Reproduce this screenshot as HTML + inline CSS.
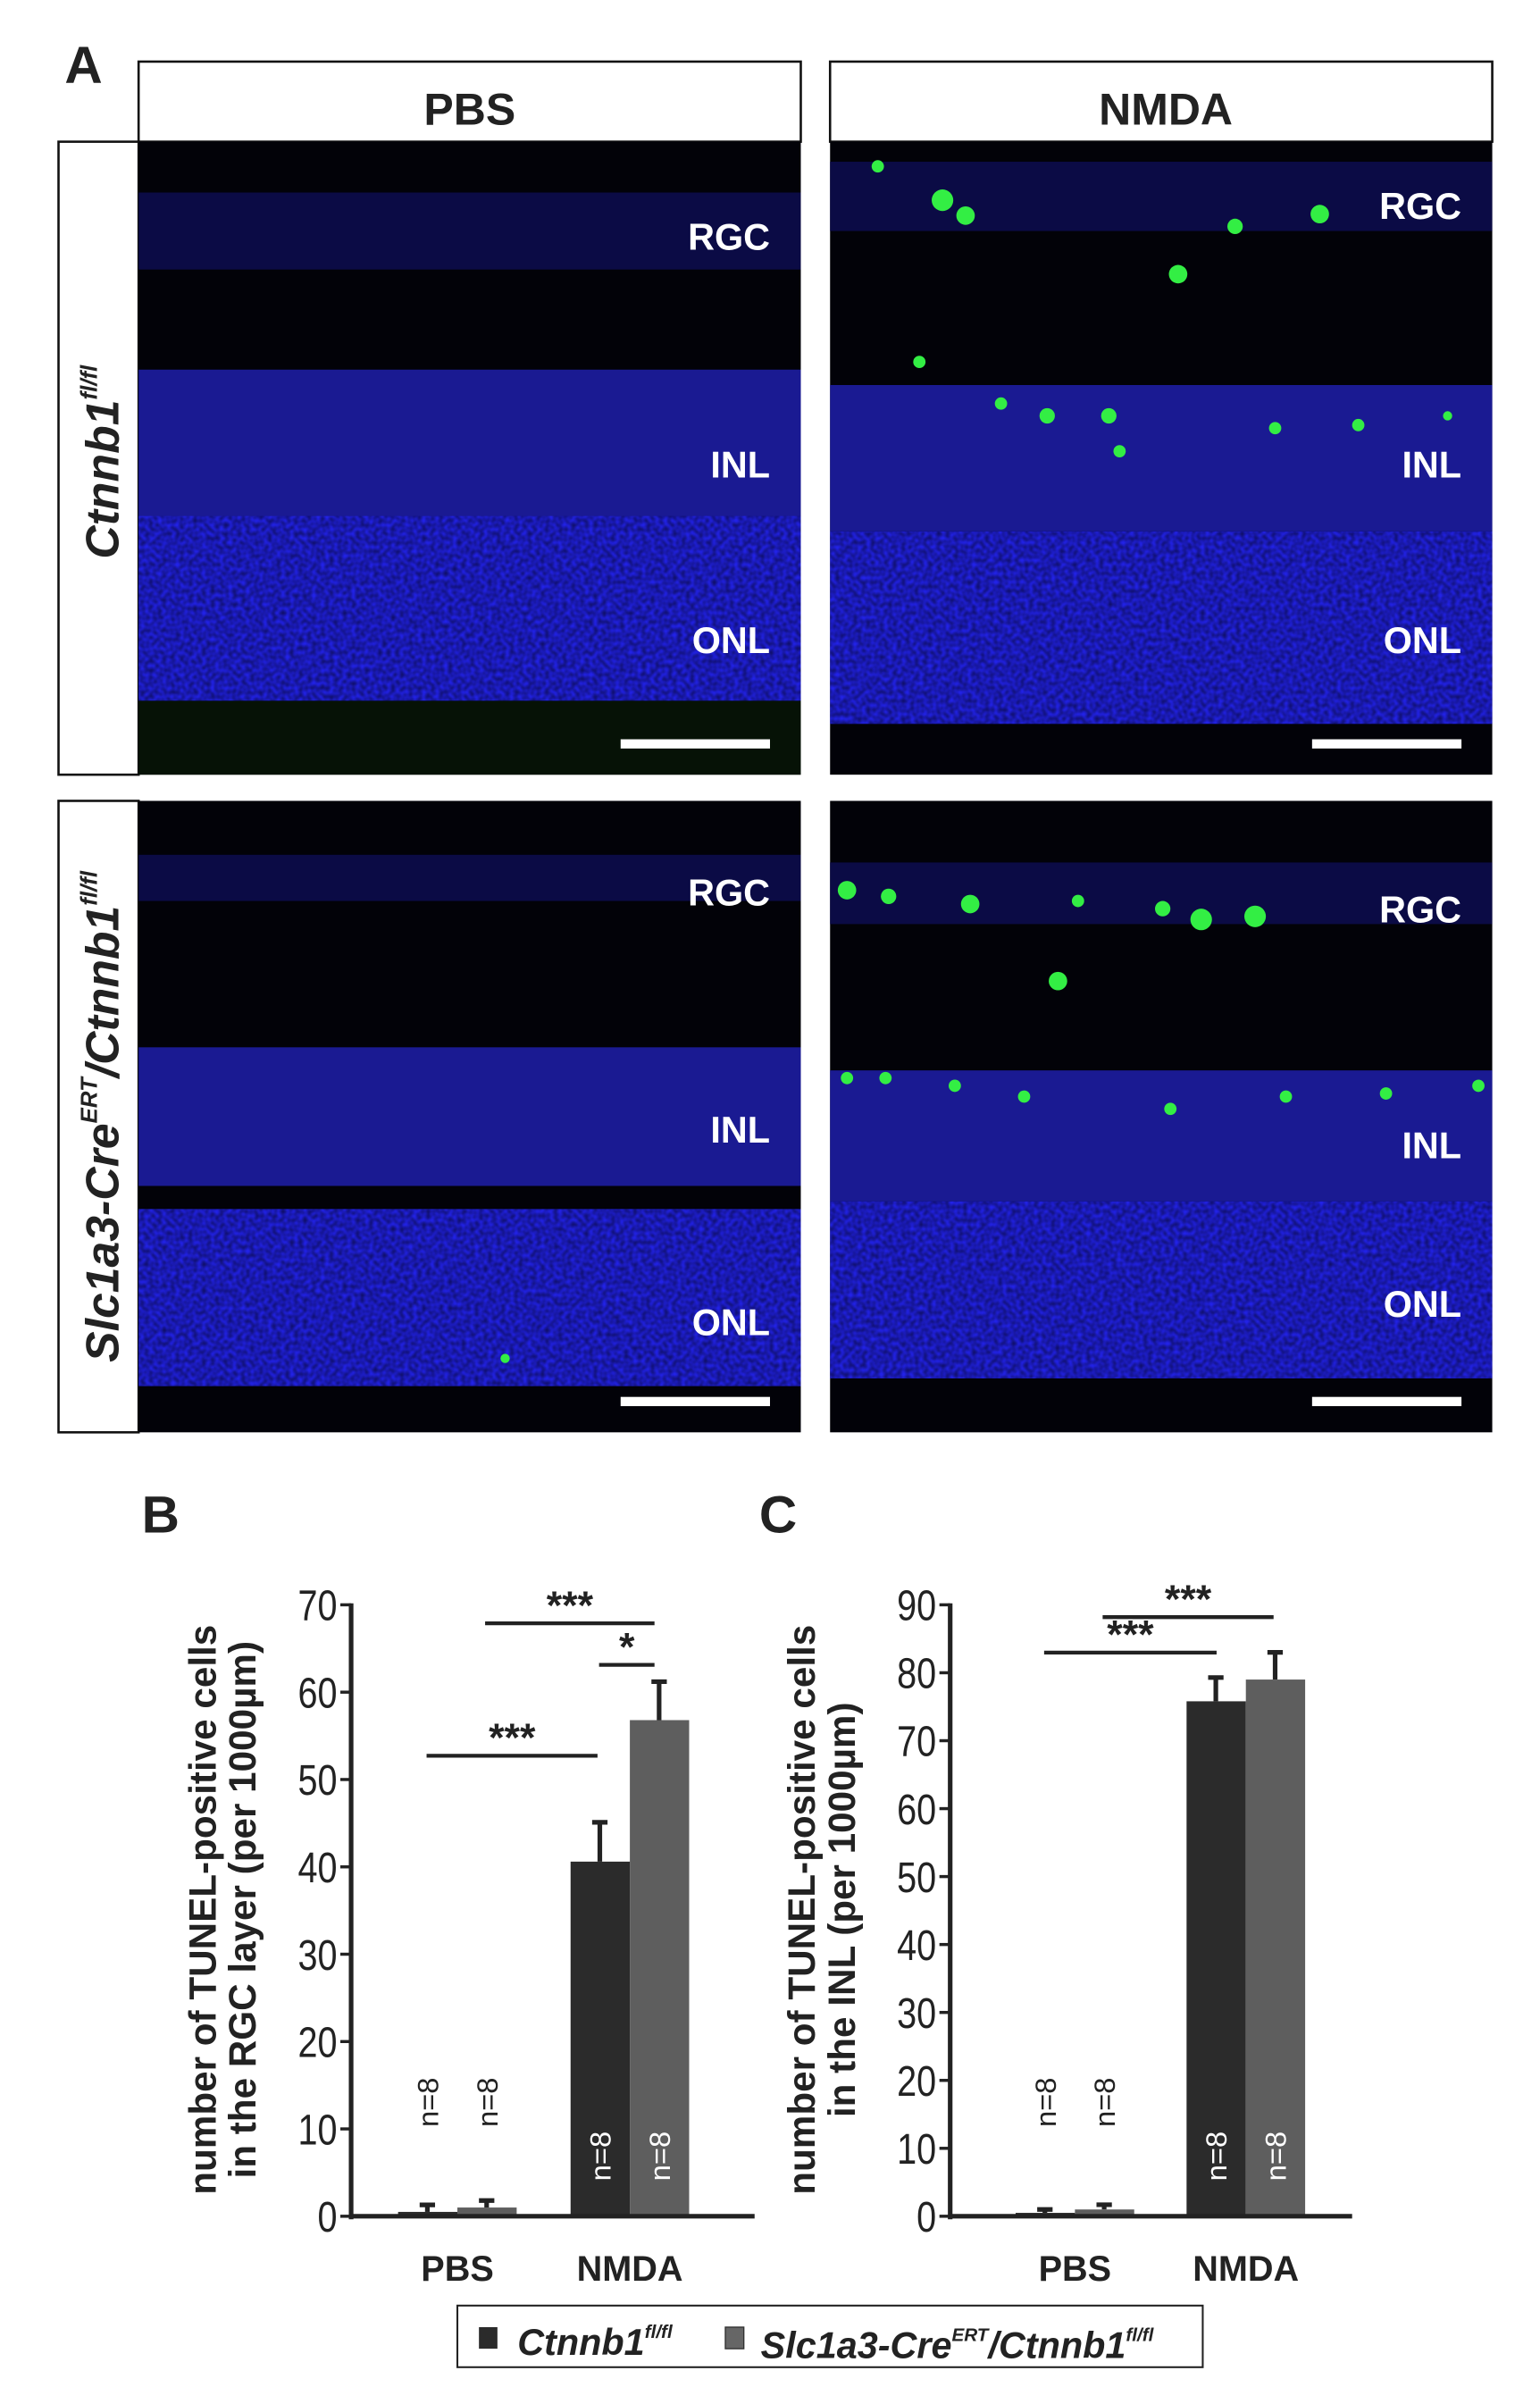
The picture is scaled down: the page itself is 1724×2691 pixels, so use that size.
<!DOCTYPE html>
<html><head><meta charset="utf-8"><style>
html,body{margin:0;padding:0;background:#fff}
svg{display:block}
text{font-family:"Liberation Sans",sans-serif}
</style></head><body>
<svg id="fig" width="1724" height="2691" viewBox="0 0 1000 1560.9" xmlns="http://www.w3.org/2000/svg">
<defs>
<filter id="tex" x="0" y="0" width="1" height="1"><feTurbulence type="fractalNoise" baseFrequency="0.35" numOctaves="1" seed="3"/><feColorMatrix values="0 0 0 0 0  0 0 0 0 0  0 0 0 0 0  0 0 0 -1.4 1.1"/><feComposite in2="SourceGraphic" operator="in"/></filter>
</defs>
<text x="42" y="54" font-size="34" font-weight="bold" fill="#222">A</text>
<g><rect x="90" y="40" width="430" height="52" fill="#fff" stroke="#111" stroke-width="1.5"/><text x="305" y="81" font-size="29" font-weight="bold" text-anchor="middle" fill="#222">PBS</text></g>
<g><rect x="539" y="40" width="430" height="52" fill="#fff" stroke="#111" stroke-width="1.5"/><text x="757" y="81" font-size="29" font-weight="bold" text-anchor="middle" fill="#222">NMDA</text></g>
<g><rect x="38" y="92" width="52" height="411" fill="#fff" stroke="#111" stroke-width="1.5"/><text transform="translate(77,300) rotate(-90)" font-size="30" font-weight="bold" font-style="italic" text-anchor="middle" fill="#222">Ctnnb1<tspan font-size="15" dy="-14">fl/fl</tspan></text></g>
<g><rect x="38" y="520" width="52" height="410" fill="#fff" stroke="#111" stroke-width="1.5"/><text transform="translate(77,725) rotate(-90)" font-size="30" font-weight="bold" font-style="italic" text-anchor="middle" fill="#222">Slc1a3-Cre<tspan font-size="15" dy="-14">ERT</tspan><tspan dy="14">/Ctnnb1</tspan><tspan font-size="15" dy="-14">fl/fl</tspan></text></g>
<g id="micro"></g>
<g id="chartB"></g>
<g id="chartC"></g>
<g>
<rect x="297" y="1497" width="484" height="40" fill="#fff" stroke="#222" stroke-width="1.2"/>
<rect x="311" y="1511" width="12" height="14" fill="#2b2b2b"/>
<text x="336" y="1529" font-size="24" font-weight="bold" font-style="italic" fill="#222">Ctnnb1<tspan font-size="12" dy="-11">fl/fl</tspan></text>
<rect x="471" y="1511" width="12" height="14" fill="#666" stroke="#333" stroke-width="0.8"/>
<text x="494" y="1531" font-size="24" font-weight="bold" font-style="italic" fill="#222">Slc1a3-Cre<tspan font-size="12" dy="-11">ERT</tspan><tspan dy="11">/Ctnnb1</tspan><tspan font-size="12" dy="-11">fl/fl</tspan></text>
</g>
</svg>
<script>
const NS='http://www.w3.org/2000/svg';
function mk(tag,attrs,parent){const e=document.createElementNS(NS,tag);for(const k in attrs)e.setAttribute(k,attrs[k]);parent.appendChild(e);return e;}

// ---- micrographs ----
const micro=document.getElementById('micro');
const panels=[
 {x:90,y:92,h:411,rgc:[125,175],inl:[240,335],onl:[335,455],lab:[153,301,415],dots:[],bar:483},
 {x:539,y:92,h:411,rgc:[105,150],inl:[250,345],onl:[345,470],lab:[133,301,415],dots:[[612,130,7],[627,140,6],[802,147,5],[857,139,6],[765,178,6],[597,235,4],[570,108,4],[680,270,5],[720,270,5],[727,293,4],[882,276,4],[940,270,3],[828,278,4],[650,262,4]],bar:483},
 {x:90,y:520,h:410,rgc:[555,585],inl:[680,770],onl:[785,900],lab:[579,733,858],dots:[[328,882,3]],bar:910},
 {x:539,y:520,h:410,rgc:[560,600],inl:[695,780],onl:[780,895],lab:[590,743,846],dots:[[550,578,6],[577,582,5],[630,587,6],[687,637,6],[780,597,7],[815,595,7],[755,590,5],[575,700,4],[620,705,4],[665,712,4],[760,720,4],[835,712,4],[900,710,4],[960,705,4],[700,585,4],[550,700,4]],bar:910}
];
panels.forEach((p,i)=>{
 const g=mk('g',{},micro);
 
 
 mk('rect',{x:p.x,y:p.y,width:430,height:p.h,fill:'#020208'},g);
 mk('rect',{x:p.x,y:p.rgc[0],width:430,height:p.rgc[1]-p.rgc[0],fill:'#0b0b45'},g);
 mk('rect',{x:p.x,y:p.inl[0],width:430,height:p.inl[1]-p.inl[0],fill:'#1a1a92'},g);
 mk('rect',{x:p.x,y:p.onl[0],width:430,height:p.onl[1]-p.onl[0],fill:'#2222e6'},g);
 mk('rect',{x:p.x,y:p.onl[0],width:430,height:p.onl[1]-p.onl[0],fill:'#000040',filter:'url(#tex)',opacity:'0.6'},g);
 if(i===0) mk('rect',{x:p.x,y:p.onl[1],width:430,height:p.y+p.h-p.onl[1],fill:'#061206'},g);
 p.dots.forEach(d=>mk('circle',{cx:d[0],cy:d[1],r:d[2],fill:'#33ee44'},g));
 ['RGC','INL','ONL'].forEach((t,j)=>{const tx=mk('text',{x:p.x+410,y:p.lab[j]+9,'font-size':24,'font-weight':'bold','text-anchor':'end',fill:'#fff'},g);tx.textContent=t;});
 mk('rect',{x:p.x+313,y:p.bar-3,width:97,height:6,fill:'#fff'},g);
});

// ---- charts data ----
const categories=['PBS','NMDA'];
const seriesNames=['Ctnnb1 fl/fl','Slc1a3-CreERT/Ctnnb1 fl/fl'];
const bCtnnb1=[0.5,40.6];
const bSlc1a3=[1.0,56.8];
const bCtnnb1Err=[0.8,4.5];
const bSlc1a3Err=[0.8,4.4];
const bTicks=[0,10,20,30,40,50,60,70];
const cCtnnb1=[0.5,75.8];
const cSlc1a3=[1.0,79.0];
const cCtnnb1Err=[0.5,3.5];
const cSlc1a3Err=[0.7,4.0];
const cTicks=[0,10,20,30,40,50,60,70,80,90];
const nLabels=['n=8','n=8'];

function chart(gid,x0,xEnd,yMax,ticks,s1,s2,e1,e2,catX,title1,title2,sig,label,labelX){
 const g=document.getElementById(gid);
 const yB=1439,yT=1042;
 const y=v=>yB-(v/yMax)*(yB-yT);
 const col=['#2b2b2b','#5e5e5e'];
 const lt=mk('text',{x:labelX,y:995,'font-size':34,'font-weight':'bold',fill:'#222'},g);lt.textContent=label;
 const tt=mk('text',{transform:`translate(${x0-88},1240) rotate(-90)`,'font-size':24.5,'font-weight':'bold','text-anchor':'middle',fill:'#222'},g);
 
 
 mk('tspan',{x:0,dy:0},tt).textContent=title1;
 mk('tspan',{x:0,dy:26},tt).textContent=title2;
 [s1,s2].forEach((s,si)=>{
  const errs=si?e2:e1;
  s.forEach((v,ci)=>{
   const top=v+errs[ci];
   const bx=catX[ci]+(si?0:-38.5);
   mk('line',{x1:bx+19,x2:bx+19,y1:y(v),y2:y(top),stroke:'#222','stroke-width':3},g);
   mk('line',{x1:bx+14,x2:bx+24,y1:y(top),y2:y(top),stroke:'#222','stroke-width':3},g);
   const r=mk('rect',{x:bx,y:y(v),width:38.5,height:yB-y(v),fill:col[si]},g);
   
   
   const inside=ci===1;
   const nt=mk('text',{transform:`translate(${bx+26},${inside?1400:1365}) rotate(-90)`,'font-size':19,'text-anchor':'middle',fill:inside?'#fff':'#222'},g);
   nt.textContent=nLabels[si];
  });
 });
 mk('line',{x1:x0,x2:x0,y1:yT-1,y2:yB+2,stroke:'#222','stroke-width':3},g);
 mk('line',{x1:x0-1,x2:xEnd,y1:yB,y2:yB,stroke:'#222','stroke-width':3},g);
 ticks.forEach(t=>{
  mk('line',{x1:x0-7,x2:x0,y1:y(t),y2:y(t),stroke:'#222','stroke-width':2},g);
  const tx=mk('text',{transform:`translate(${x0-9},${y(t)+10}) scale(0.82,1)`,'font-size':28,'text-anchor':'end',fill:'#222'},g);
  tx.textContent=t;
 });
 categories.forEach((c,ci)=>{const t=mk('text',{x:catX[ci],y:1481,'font-size':23,'font-weight':'bold','text-anchor':'middle',fill:'#222'},g);t.textContent=c;});
 sig.forEach(s=>{
  mk('line',{x1:s[0],x2:s[1],y1:s[2],y2:s[2],stroke:'#222','stroke-width':2.5},g);
  const t=mk('text',{x:(s[0]+s[1])/2,y:s[2]-3,'font-size':26,'font-weight':'bold','text-anchor':'middle',fill:'#222'},g);t.textContent=s[3];
 });
}
chart('chartB',228,490,70,bTicks,bCtnnb1,bSlc1a3,bCtnnb1Err,bSlc1a3Err,[297,409],
 'number of TUNEL-positive cells','in the RGC layer (per 1000µm)',
 [[277,388,1140,'***'],[315,425,1054,'***'],[389,425,1081,'*']],'B',92);
chart('chartC',617,878,90,cTicks,cCtnnb1,cSlc1a3,cCtnnb1Err,cSlc1a3Err,[698,809],
 'number of TUNEL-positive cells','in the INL (per 1000µm)',
 [[678,790,1073,'***'],[716,827,1050,'***']],'C',493);
</script>
</body></html>
